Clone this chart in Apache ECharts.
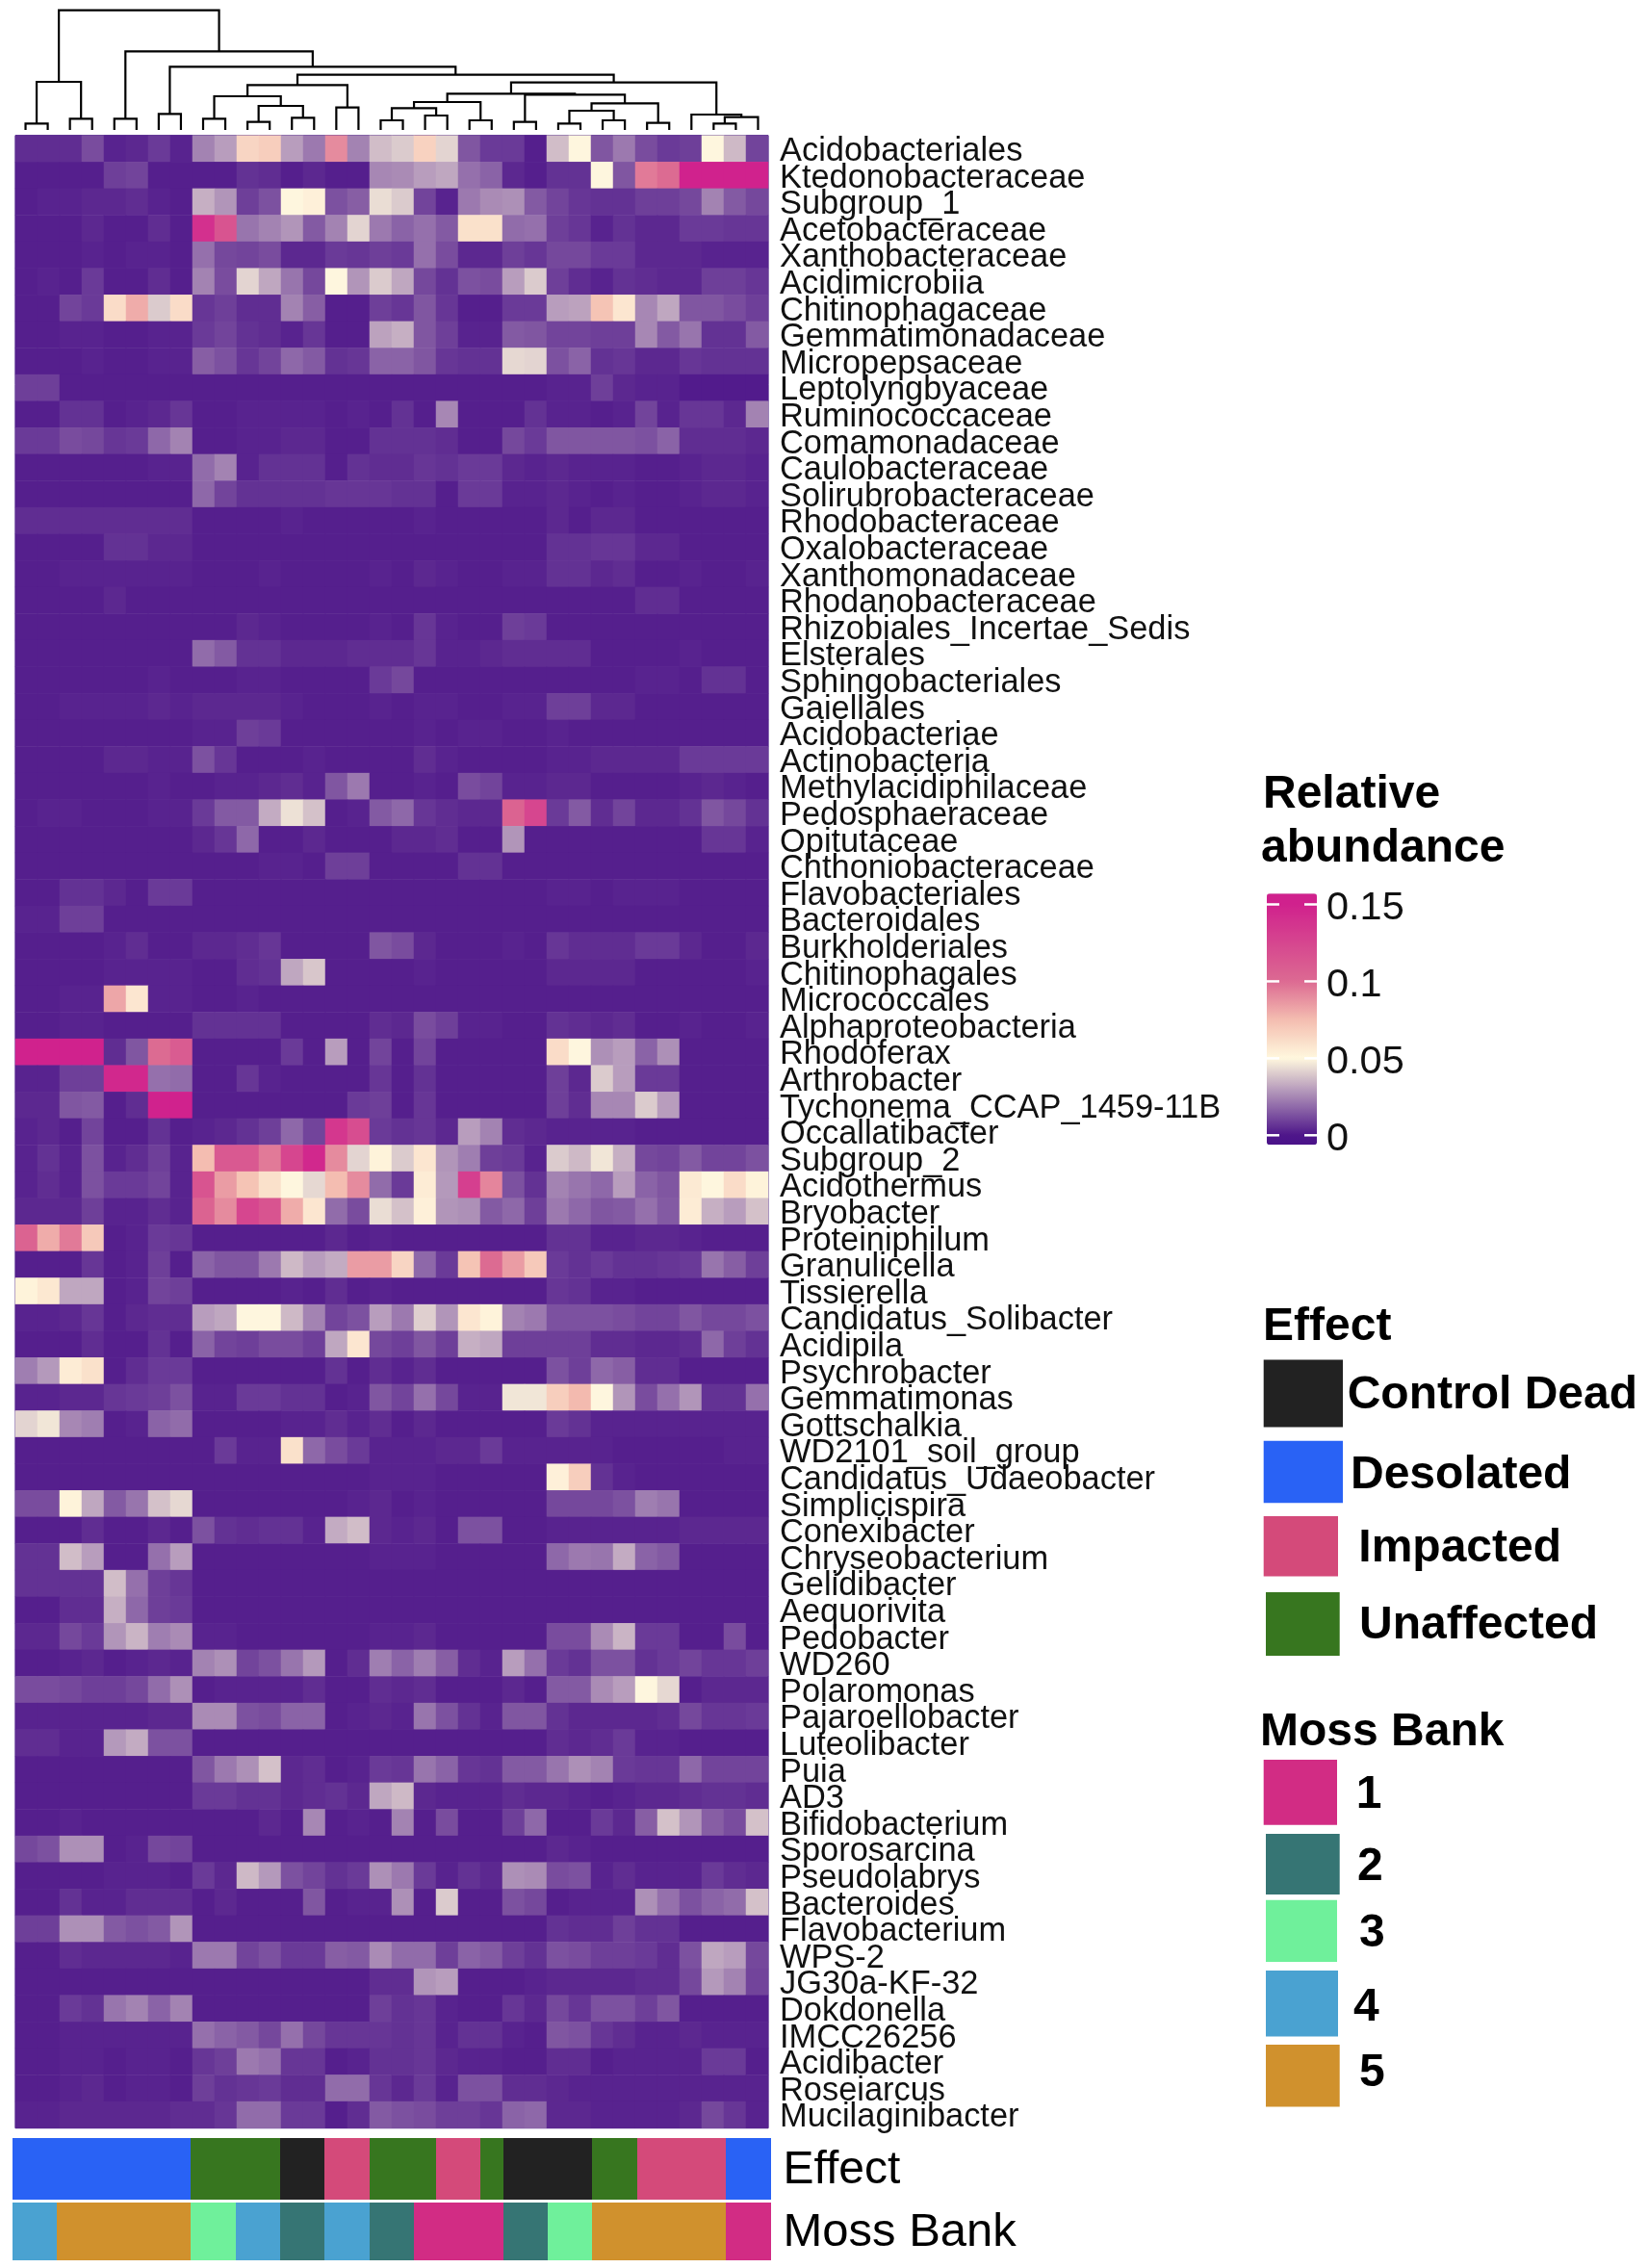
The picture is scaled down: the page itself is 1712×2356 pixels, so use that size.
<!DOCTYPE html>
<html>
<head>
<meta charset="utf-8">
<title>Relative abundance heatmap</title>
<script src="https://cdn.jsdelivr.net/npm/echarts@6/dist/echarts.min.js"></script>
<style>
  html, body { margin: 0; padding: 0; background: #fff; }
  #main { width: 1712px; height: 2356px; }
</style>
</head>
<body>
<div id="main"></div>
<script>
const taxa = ['Acidobacteriales','Ktedonobacteraceae','Subgroup_1','Acetobacteraceae','Xanthobacteraceae','Acidimicrobiia','Chitinophagaceae','Gemmatimonadaceae','Micropepsaceae','Leptolyngbyaceae','Ruminococcaceae','Comamonadaceae','Caulobacteraceae','Solirubrobacteraceae','Rhodobacteraceae','Oxalobacteraceae','Xanthomonadaceae','Rhodanobacteraceae','Rhizobiales_Incertae_Sedis','Elsterales','Sphingobacteriales','Gaiellales','Acidobacteriae','Actinobacteria','Methylacidiphilaceae','Pedosphaeraceae','Opitutaceae','Chthoniobacteraceae','Flavobacteriales','Bacteroidales','Burkholderiales','Chitinophagales','Micrococcales','Alphaproteobacteria','Rhodoferax','Arthrobacter','Tychonema_CCAP_1459-11B','Occallatibacter','Subgroup_2','Acidothermus','Bryobacter','Proteiniphilum','Granulicella','Tissierella','Candidatus_Solibacter','Acidipila','Psychrobacter','Gemmatimonas','Gottschalkia','WD2101_soil_group','Candidatus_Udaeobacter','Simplicispira','Conexibacter','Chryseobacterium','Gelidibacter','Aequorivita','Pedobacter','WD260','Polaromonas','Pajaroellobacter','Luteolibacter','Puia','AD3','Bifidobacterium','Sporosarcina','Pseudolabrys','Bacteroides','Flavobacterium','WPS-2','JG30a-KF-32','Dokdonella','IMCC26256','Acidibacter','Roseiarcus','Mucilaginibacter'];

// in thousandths of relative abundance; one row per taxon
const abundancePermille = [
[5,5,5,12,3,4,8,3, 24,30,65,68,30,22,90,24, 37,40,66,42,14,8,8,2, 37,50,14,22,12,8,9,50, 36,10],
[2,2,2,2,9,10,2,2, 2,2,6,5,2,4,2,2, 25,26,30,32,20,17,4,2, 6,6,50,14,95,100,150,150, 150,150],
[2,3,3,4,4,5,3,2, 34,28,9,13,50,53,13,16, 44,40,10,3,22,26,27,15, 10,7,6,6,9,9,11,24, 15,11],
[2,2,2,4,2,2,5,2, 140,115,21,24,28,15,24,42, 22,17,20,15,60,60,19,20, 9,7,3,6,4,4,8,8, 7,7],
[2,2,2,3,2,3,3,2, 20,11,10,12,4,4,8,7, 9,8,20,12,4,4,9,7, 11,11,8,8,4,4,4,3, 3,3],
[2,3,2,8,2,2,5,2, 24,12,42,32,21,11,50,28, 40,32,11,6,13,12,30,40, 9,5,3,6,5,4,4,9, 9,7],
[2,2,10,8,62,80,40,62, 7,9,5,5,24,16,2,2, 9,7,14,7,2,2,8,8, 30,31,72,58,25,32,14,14, 12,9],
[2,2,3,3,2,2,3,3, 8,10,6,5,3,7,2,2, 31,34,14,9,3,3,15,14, 10,10,9,9,25,15,21,6, 6,15],
[2,2,2,3,2,2,3,3, 16,13,7,10,18,15,6,7, 17,17,14,7,6,6,43,42, 13,17,6,7,4,4,7,6, 6,6],
[9,9,2,2,2,2,2,2, 2,2,2,2,2,2,2,2, 2,2,2,2,2,2,2,2, 3,3,9,4,3,3,1,1, 1,1],
[2,2,6,6,2,3,4,7, 2,2,3,3,3,3,2,3, 2,6,2,25,2,2,2,6, 3,3,2,3,10,3,7,7, 4,24],
[8,8,12,11,7,8,18,24, 2,2,3,3,4,4,2,2, 6,6,6,5,2,2,11,8, 14,14,14,14,13,17,5,5, 5,4],
[2,2,2,2,2,2,3,3, 19,24,3,6,6,6,2,6, 5,5,7,6,8,8,4,3, 4,3,3,3,2,2,3,4, 4,3],
[2,2,2,2,2,2,2,2, 18,10,6,6,6,6,7,7, 7,6,6,2,8,8,3,3, 4,3,2,3,2,2,3,4, 4,3],
[5,5,5,5,5,5,5,5, 2,2,2,2,3,2,2,2, 2,2,3,2,2,2,2,2, 4,2,4,4,2,2,2,2, 2,2],
[2,2,2,2,6,6,4,4, 2,2,2,2,2,2,2,2, 2,2,2,2,2,2,2,2, 6,6,7,7,4,4,2,2, 2,2],
[2,2,3,3,3,3,3,3, 2,2,2,3,2,2,2,2, 3,2,4,3,2,2,3,3, 6,6,4,5,2,2,3,2, 2,3],
[2,2,2,2,4,2,2,2, 2,2,2,2,2,2,2,2, 2,2,2,2,2,2,2,2, 2,2,2,2,5,5,2,2, 2,2],
[2,2,2,2,2,2,2,2, 2,2,4,3,2,2,2,2, 3,2,7,3,2,2,9,8, 2,2,2,2,2,2,2,2, 2,2],
[2,2,2,2,2,2,2,2, 19,15,6,6,4,4,4,5, 5,5,7,3,3,4,5,5, 5,5,2,2,2,2,3,2, 2,2],
[2,2,2,2,2,2,3,2, 2,2,3,3,2,2,2,2, 8,11,2,2,2,2,2,2, 2,2,2,2,3,3,2,6, 6,2],
[2,2,3,3,3,3,4,3, 4,4,4,4,3,2,2,2, 3,2,3,3,2,2,3,3, 9,9,4,4,2,2,2,2, 2,2],
[2,2,2,2,2,2,2,2, 3,3,9,8,2,2,2,2, 2,2,3,2,3,3,2,2, 3,2,2,2,2,2,2,2, 2,2],
[2,2,2,2,4,4,3,3, 13,7,2,2,2,3,2,2, 2,2,5,3,2,2,2,2, 3,3,4,4,4,4,8,8, 8,8],
[2,2,2,2,2,2,3,2, 2,3,3,4,5,3,14,22, 2,2,3,2,12,10,3,3, 4,4,2,2,2,2,3,4, 3,2],
[2,3,3,2,2,2,3,3, 8,15,15,33,45,38,2,3, 15,18,7,5,4,4,105,125, 8,15,5,10,4,4,6,14, 11,6],
[2,2,2,2,2,2,2,2, 4,7,18,2,2,4,2,2, 2,4,4,5,2,2,28,2, 2,2,2,2,2,2,2,7, 7,3],
[2,2,2,2,2,2,2,2, 2,2,2,3,3,2,9,9, 2,2,2,2,6,6,2,2, 2,2,2,2,2,2,2,2, 2,2],
[2,2,6,6,4,2,8,8, 2,2,2,2,2,2,2,2, 2,2,2,2,2,2,2,2, 3,3,2,3,3,3,2,2, 2,2],
[3,3,9,9,2,2,2,2, 2,2,2,2,2,2,2,2, 2,2,2,2,2,2,2,2, 2,2,2,2,2,2,2,2, 2,2],
[2,2,2,2,3,5,2,2, 4,4,5,7,2,2,2,2, 14,12,4,2,2,2,3,2, 7,5,5,5,8,8,4,2, 2,4],
[2,2,2,2,3,3,3,3, 2,2,5,6,32,39,2,2, 2,2,3,2,2,2,2,2, 4,4,4,4,2,2,2,2, 2,3],
[2,2,3,3,82,58,3,3, 2,2,3,2,2,2,2,2, 2,2,2,2,2,2,2,2, 2,2,2,2,2,2,2,2, 2,2],
[2,2,3,3,2,2,2,2, 6,6,6,6,2,2,2,2, 5,4,12,9,3,3,2,2, 6,5,4,5,2,2,3,2, 2,3],
[150,150,150,150,5,14,100,110, 2,2,2,2,8,2,30,2, 10,2,10,2,2,2,2,2, 62,50,27,30,17,27,2,2, 2,2],
[3,3,9,9,145,145,20,19, 2,2,7,3,2,2,2,2, 7,2,6,2,2,2,2,2, 9,4,40,30,8,8,2,2, 2,2],
[4,4,14,15,2,5,150,150, 2,2,2,2,2,2,2,8, 9,2,7,2,2,2,2,2, 9,5,25,25,40,30,2,2, 2,2],
[3,4,2,10,2,2,6,2, 3,4,6,9,18,10,135,120, 8,6,7,4,30,24,5,4, 3,3,3,3,2,2,2,2, 2,2],
[3,6,3,13,3,5,9,3, 75,112,112,95,125,145,90,42, 52,40,58,28,23,9,8,3, 40,36,46,34,11,10,15,10, 10,13],
[3,5,3,13,8,8,10,3, 115,85,72,60,50,43,75,90, 19,8,55,29,130,92,13,6, 24,21,18,30,17,14,56,50, 62,52],
[4,4,4,9,3,3,5,3, 105,90,125,115,80,58,19,12, 44,38,53,28,27,15,18,9, 22,18,14,15,20,15,55,34, 30,38],
[105,80,95,70,2,3,8,7, 2,2,2,2,2,2,4,2, 3,2,2,2,2,2,2,2, 6,6,3,3,4,4,3,2, 2,2],
[2,2,2,7,2,3,9,2, 17,14,14,22,36,30,33,85, 85,65,18,8,72,100,85,70, 8,6,8,6,6,7,8,21, 16,9],
[52,57,32,32,2,3,10,9, 2,2,2,2,3,2,5,2, 3,2,2,2,2,2,2,2, 7,6,3,3,2,2,2,2, 2,2],
[3,3,4,7,2,4,5,5, 30,32,50,50,36,24,10,13, 30,22,41,28,58,52,24,22, 13,13,13,12,10,10,14,11, 11,13],
[2,2,2,5,2,2,6,2, 17,10,9,12,12,9,32,58, 11,9,14,9,34,32,9,9, 9,9,5,5,4,4,5,18, 9,6],
[23,29,55,60,2,5,8,8, 2,2,2,2,2,2,6,2, 5,3,5,2,2,2,2,2, 13,9,18,16,5,5,2,2, 2,2],
[3,3,4,4,7,8,9,13, 3,3,8,8,6,6,2,3, 14,10,20,11,3,3,46,46, 68,76,50,28,12,20,28,6, 6,20],
[42,46,25,23,2,3,17,19, 2,2,2,2,3,3,5,3, 5,2,4,2,2,2,2,2, 8,6,3,3,3,3,3,3, 3,3],
[2,2,2,2,2,2,2,2, 2,8,3,3,60,18,12,8, 3,3,3,4,4,8,3,3, 3,3,3,2,2,2,2,2, 3,3],
[2,2,2,2,2,2,2,2, 2,2,2,2,2,2,2,2, 3,3,3,2,2,2,2,2, 53,68,6,3,2,2,2,2, 2,2],
[12,12,52,32,15,21,38,43, 2,2,2,2,2,2,2,3, 4,2,3,2,2,2,2,2, 11,11,11,13,23,21,2,2, 2,2],
[2,2,2,5,2,2,4,2, 13,6,5,6,6,3,33,37, 4,3,4,2,13,13,2,2, 3,3,3,3,3,3,4,4, 4,4],
[6,6,37,30,2,2,20,30, 2,2,2,2,2,2,2,2, 3,3,3,2,2,2,2,2, 18,22,21,33,17,15,2,2, 2,2],
[6,6,6,6,37,20,9,7, 2,2,2,2,2,2,2,2, 2,2,2,2,2,2,2,2, 2,2,2,2,2,2,2,2, 2,2],
[2,2,5,5,34,18,9,8, 2,2,2,2,2,2,2,2, 2,2,2,2,2,2,2,2, 2,2,2,2,2,2,2,2, 2,2],
[4,4,11,8,28,35,23,26, 3,3,2,2,2,2,2,2, 3,3,4,2,2,2,2,2, 12,12,26,35,8,8,2,2, 12,2],
[2,2,3,4,2,3,4,3, 24,27,10,13,21,29,2,5, 23,17,23,16,5,3,30,20, 8,6,13,13,6,8,10,7, 7,9],
[12,12,11,9,9,11,19,27, 2,3,3,3,3,5,2,2, 5,4,5,2,2,2,4,2, 15,15,26,30,50,43,2,4, 4,4],
[3,3,3,3,3,3,4,4, 26,26,13,12,17,17,2,3, 4,3,21,13,6,3,14,14, 6,4,4,4,4,5,11,7, 7,8],
[5,5,3,3,29,33,13,13, 2,2,2,2,2,2,2,2, 2,2,2,2,2,2,2,2, 5,4,5,8,3,3,2,2, 2,2],
[2,2,2,2,2,2,2,2, 14,22,27,38,4,5,2,3, 8,7,21,17,7,6,15,15, 21,27,24,8,7,7,18,10, 10,10],
[2,2,2,2,2,2,2,2, 8,8,6,6,4,5,6,4, 32,36,4,3,3,3,5,4, 4,3,2,3,4,4,5,6, 6,5],
[2,2,3,2,2,2,2,2, 2,2,2,4,2,25,2,3, 2,24,2,12,2,2,9,18, 2,2,8,4,16,38,28,16, 12,38],
[11,13,27,27,2,3,11,10, 2,2,2,2,2,2,2,2, 2,2,2,2,2,2,2,2, 4,3,2,2,2,2,2,2, 2,2],
[2,2,2,2,3,3,3,2, 8,4,36,29,13,10,6,8, 27,22,8,3,6,4,27,26, 12,13,3,5,3,3,3,8, 5,4],
[2,2,6,3,3,5,5,5, 2,4,2,2,2,14,2,3, 3,27,2,40,2,2,13,11, 2,3,3,3,27,20,13,17, 19,38],
[9,9,27,27,15,13,15,28, 2,2,2,2,2,2,2,2, 2,2,2,2,2,2,2,2, 6,5,5,9,6,6,2,2, 2,2],
[2,2,5,4,4,4,4,3, 22,22,10,13,8,8,16,15, 26,19,19,9,17,15,9,6, 13,12,9,9,8,5,13,32, 30,11],
[2,2,2,2,2,2,2,2, 2,2,2,2,2,2,2,2, 5,5,28,30,2,2,2,3, 4,4,4,4,5,5,11,29, 24,10],
[2,2,8,6,21,24,17,24, 2,2,2,2,2,2,2,2, 9,6,7,3,2,2,7,4, 11,7,13,13,9,14,2,2, 2,2],
[2,2,3,3,3,3,3,3, 20,17,15,11,20,11,7,7, 7,6,7,3,6,6,3,2, 14,13,7,5,3,3,4,3, 3,3],
[2,2,3,3,2,3,3,2, 7,9,22,20,7,7,2,3, 6,6,7,4,3,3,2,2, 5,5,2,3,3,3,3,8, 8,2],
[2,2,3,4,2,3,3,2, 9,6,7,8,5,5,19,19, 7,4,8,3,13,13,5,5, 4,3,3,3,3,3,3,3, 3,3],
[3,3,4,4,4,4,4,5, 5,7,19,19,8,8,2,5, 15,13,12,9,9,7,17,18, 4,4,3,3,3,3,4,11, 7,3]
];

// annotation bars, one entry per sample column
const effectNames = ['Control Dead', 'Desolated', 'Impacted', 'Unaffected'];
const effectColors = ['#222222', '#2962f5', '#d44a7a', '#37761f'];
const effectBySample = [1,1,1,1,1,1,1,1, 3,3,3,3,0,0,2,2, 3,3,3,2,2,3,0,0, 0,0,3,3,2,2,2,2, 1,1];
const bankNames = ['1', '2', '3', '4', '5'];
const bankColors = ['#d22c84', '#367574', '#6ff09b', '#4aa2d1', '#d0912d'];
const bankBySample = [3,3,4,4,4,4,4,4, 2,2,3,3,1,1,3,3, 1,1,0,0,0,0,1,1, 2,2,4,4,4,4,4,4, 0,0];

// sample tree: negative = leaf column, positive = earlier merge (1-based), then height
const sampleMerges = [
[-1,-2,20],[-3,-4,35],[1,2,150],[-5,-6,35],[-7,-8,50],[-9,-10,35],[-11,-12,25],[-13,-14,38],
[7,8,75],[6,9,105],[-15,-16,70],[10,11,140],[-17,-18,30],[-19,-20,45],[13,14,68],[-21,-22,30],
[15,16,87],[-23,-24,25],[-25,-26,20],[-27,-28,30],[19,20,60],[-29,-30,22],[21,22,83],[18,23,110],
[17,24,113],[-32,-33,20],[26,-34,40],[-31,27,48],[25,28,148],[12,29,172],[5,30,197],[4,31,245],[3,32,373]
];

const scaleTicks = [0, 0.05, 0.1, 0.15];
const scaleStops = [[-0.00625,'#4a1289'],[0,'#4e168a'],[0.05,'#fff8de'],[0.075,'#f4bdb0'],[0.1,'#dc6a92'],[0.125,'#d6468f'],[0.15,'#d0218d'],[0.157,'#d0218d']];

const sampleIds = abundancePermille[0].map((_, i) => 'S' + (i + 1));
const font = '"Liberation Sans", Arial, sans-serif';

// evenly spaced colours for the visualMap, since cream has to land on 0.05
function colorAt(v) {
  for (let i = 1; i < scaleStops.length; i++) {
    if (v <= scaleStops[i][0]) {
      const t = (v - scaleStops[i - 1][0]) / (scaleStops[i][0] - scaleStops[i - 1][0]);
      return echarts.color.lerp(t, [scaleStops[i - 1][1], scaleStops[i][1]]);
    }
  }
  return scaleStops[scaleStops.length - 1][1];
}
const scaleMin = scaleStops[0][0], scaleMax = scaleStops[scaleStops.length - 1][0];
const rampColors = [];
for (let i = 0; i <= 130; i++) rampColors.push(colorAt(scaleMin + (scaleMax - scaleMin) * i / 130));

const cells = [];
abundancePermille.forEach((row, r) => row.forEach((v, c) => cells.push([c, r, v / 1000])));

// turn the merges into bracket segments
const nodePos = [];
const treeSegments = sampleMerges.map(m => {
  const a = m[0] < 0 ? [-m[0] - 0.5, 0] : nodePos[m[0] - 1];
  const b = m[1] < 0 ? [-m[1] - 0.5, 0] : nodePos[m[1] - 1];
  nodePos.push([(a[0] + b[0]) / 2, m[2]]);
  return [a[0], a[1], b[0], b[1], m[2]];
});

// annotation strip: whole-pixel edges so neighbouring blocks join without seams
function stripRect(colors) {
  return function (params, api) {
    const mid = api.coord([api.value(0), 0]);
    const band = api.size([1, 0])[0];
    const x0 = Math.round(mid[0] - band / 2);
    const x1 = Math.round(mid[0] + band / 2);
    return {
      type: 'rect',
      shape: { x: x0, y: params.coordSys.y, width: x1 - x0, height: params.coordSys.height },
      style: { fill: colors[api.value(2)] }
    };
  };
}

const chart = echarts.init(document.getElementById('main'));

const legendText = (text, x, y, size) => ({
  type: 'text', x: x - 3, y: y + 4,
  style: { text: text, font: 'bold ' + (size || 48) + 'px ' + font, fill: '#000', textVerticalAlign: 'middle' }
});
const swatch = (color, x0, x1, y0, y1) => ({
  type: 'rect', shape: { x: x0, y: y0, width: x1 - x0, height: y1 - y0 }, style: { fill: color }
});

chart.setOption({
  animation: false,
  backgroundColor: '#fff',
  textStyle: { fontFamily: font },
  grid: [
    { left: 16, top: 140.7, width: 782, height: 2070, show: true, borderColor: '#3a1080', borderWidth: 1, backgroundColor: 'transparent' },
    { left: 15, top: 10.7, width: 784, height: 124.3 },
    { left: 13, top: 2221, width: 787.5, height: 64 },
    { left: 13, top: 2288, width: 787.5, height: 60 },
    { left: 1316, top: 928.3, width: 52, height: 261 }
  ],
  xAxis: [
    { type: 'category', gridIndex: 0, data: sampleIds, show: false },
    { type: 'value', gridIndex: 1, min: 0, max: sampleIds.length, show: false },
    { type: 'category', gridIndex: 2, data: sampleIds, show: false },
    { type: 'category', gridIndex: 3, data: sampleIds, show: false },
    { type: 'value', gridIndex: 4, min: 0, max: 1, show: false }
  ],
  yAxis: [
    {
      type: 'category', gridIndex: 0, data: taxa, inverse: true, position: 'right',
      axisLine: { show: false }, axisTick: { show: false }, splitLine: { show: false },
      axisLabel: { interval: 0, margin: 12, fontSize: 34.4, color: '#111', fontFamily: font, hideOverlap: false, verticalAlign: 'top', lineHeight: 6 }
    },
    { type: 'value', gridIndex: 1, min: 0, max: 373, show: false },
    {
      type: 'category', gridIndex: 2, data: ['Effect'], position: 'right',
      axisLine: { show: false }, axisTick: { show: false },
      axisLabel: { margin: 13, fontSize: 48, color: '#000', fontFamily: font, verticalAlign: 'top', lineHeight: 3 }
    },
    {
      type: 'category', gridIndex: 3, data: ['Moss Bank'], position: 'right',
      axisLine: { show: false }, axisTick: { show: false },
      axisLabel: { margin: 13, fontSize: 49, color: '#000', fontFamily: font, verticalAlign: 'top', lineHeight: 3 }
    },
    {
      type: 'value', gridIndex: 4, min: scaleMin, max: scaleMax, position: 'right',
      axisLine: { show: false }, splitLine: { show: false }, axisTick: { show: false },
      axisLabel: { customValues: scaleTicks, margin: 10, fontSize: 41.5, color: '#111', fontFamily: font, verticalAlign: 'top', lineHeight: 8 }
    }
  ],
  visualMap: [
    {
      type: 'continuous', seriesIndex: 0, dimension: 2, min: scaleMin, max: scaleMax,
      left: 1316, top: 928.3, padding: 0, itemWidth: 52, itemHeight: 261, z: 1,
      calculable: false, hoverLink: false, inRange: { color: rampColors }
    }
  ],
  series: [
    { type: 'heatmap', xAxisIndex: 0, yAxisIndex: 0, data: cells, progressive: 0 },
    {
      type: 'custom', xAxisIndex: 1, yAxisIndex: 1, data: treeSegments, silent: true, clip: false,
      encode: { x: [0, 2], y: [1, 3, 4] },
      renderItem: function (params, api) {
        const pts = [
          api.coord([api.value(0), api.value(1)]),
          api.coord([api.value(0), api.value(4)]),
          api.coord([api.value(2), api.value(4)]),
          api.coord([api.value(2), api.value(3)])
        ];
        return { type: 'polyline', shape: { points: pts }, style: { stroke: '#000', lineWidth: 2.2, fill: null } };
      }
    },
    {
      type: 'custom', xAxisIndex: 2, yAxisIndex: 2, silent: true, encode: { x: 0, y: 1 },
      data: effectBySample.map((v, i) => [i, 0, v]), renderItem: stripRect(effectColors)
    },
    {
      type: 'custom', xAxisIndex: 3, yAxisIndex: 3, silent: true, encode: { x: 0, y: 1 },
      data: bankBySample.map((v, i) => [i, 0, v]), renderItem: stripRect(bankColors)
    },
    {
      // white tick pairs on the colour bar
      type: 'custom', xAxisIndex: 4, yAxisIndex: 4, silent: true, z: 10, encode: { y: 0 },
      data: scaleTicks.map(v => [v]),
      renderItem: function (params, api) {
        const y = api.coord([0, api.value(0)])[1];
        const s = params.coordSys;
        const tick = (x0, x1) => ({
          type: 'line', shape: { x1: x0, y1: y, x2: x1, y2: y }, style: { stroke: '#fff', lineWidth: 2.5 }
        });
        return { type: 'group', children: [tick(s.x, s.x + 13), tick(s.x + s.width - 13, s.x + s.width)] };
      }
    }
  ],
  graphic: [
    legendText('Relative', 1315, 822),
    legendText('abundance', 1313, 878),
    legendText('Effect', 1315, 1375),
    swatch(effectColors[0], 1312.7, 1395, 1412.5, 1482.6),
    legendText(effectNames[0], 1402.7, 1446),
    swatch(effectColors[1], 1312.7, 1395, 1496.7, 1561.2),
    legendText(effectNames[1], 1406, 1529),
    swatch(effectColors[2], 1312.7, 1390, 1575, 1637.5),
    legendText(effectNames[2], 1414.3, 1605),
    swatch(effectColors[3], 1315, 1391.7, 1654, 1720),
    legendText(effectNames[3], 1415, 1684.7),
    legendText('Moss Bank', 1312, 1795.8),
    swatch(bankColors[0], 1312.7, 1389, 1828, 1895.7),
    legendText(bankNames[0], 1411.7, 1861),
    swatch(bankColors[1], 1315, 1391.7, 1905, 1968),
    legendText(bankNames[1], 1413, 1936),
    swatch(bankColors[2], 1315, 1389, 1973.7, 2038),
    legendText(bankNames[2], 1415, 2005),
    swatch(bankColors[3], 1315, 1390, 2047, 2115.6),
    legendText(bankNames[3], 1409, 2082),
    swatch(bankColors[4], 1315, 1391.7, 2124, 2188.6),
    legendText(bankNames[4], 1415, 2150)
  ]
});
</script>
</body>
</html>
